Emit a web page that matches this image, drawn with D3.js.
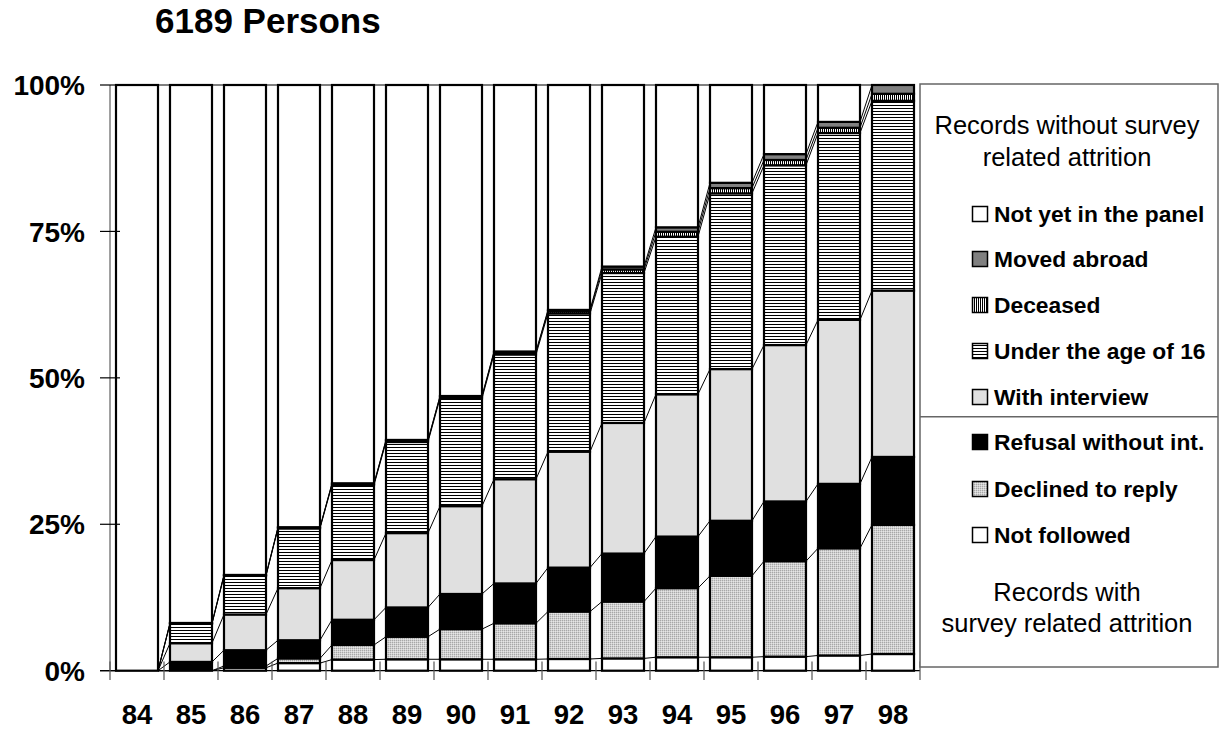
<!DOCTYPE html>
<html>
<head>
<meta charset="utf-8">
<script src="https://cdn.jsdelivr.net/npm/d3@7"></script>
<style>
  html, body { margin: 0; padding: 0; background: #fff; }
  svg { display: block; font-family: "Liberation Sans", Arial, sans-serif; }
</style>
</head>
<body>
<svg id="chart" width="1221" height="731"></svg>
<script>
// ---- data (percent of 6189 persons) ----
const categories = ["84","85","86","87","88","89","90","91","92","93","94","95","96","97","98"];
const notFollowed   = [0, 0,    0.5,  1.3,  1.9,  1.95, 1.95, 1.95, 2.0,  2.1,  2.3,  2.3,  2.4,  2.6,  2.85];
const declined      = [0, 0,    0.3,  0.8,  2.5,  3.85, 5.15, 6.15, 8.1,  9.7,  11.8, 13.9, 16.3, 18.3, 22.05];
const refusal       = [0, 1.5,  2.7,  3.1,  4.3,  5.0,  6.0,  6.8,  7.5,  8.2,  8.8,  9.4,  10.2, 11.0, 11.6];
const withInterview = [0, 3.2,  6.1,  8.9,  10.2, 12.7, 15.0, 17.8, 19.8, 22.3, 24.3, 25.9, 26.7, 28.0, 28.4];
const under16       = [0, 3.3,  6.6,  10.2, 12.8, 15.55,18.4, 21.3, 23.6, 25.6, 26.9, 30.0, 30.7, 31.9, 32.4];
const deceased      = [0, 0.1,  0.1,  0.15, 0.2,  0.25, 0.3,  0.35, 0.4,  0.6,  0.85, 0.9,  0.9,  0.9,  1.2];
const movedAbroad   = [0, 0.05, 0.05, 0.05, 0.1,  0.1,  0.1,  0.15, 0.2,  0.5,  0.75, 0.9,  1.0,  1.0,  1.5];
const notYet        = [100, 91.85, 83.65, 75.5, 68.0, 60.6, 53.1, 45.5, 38.4, 31.0, 24.3, 16.7, 11.8, 6.3, 0];
const yTicks = [0, 25, 50, 75, 100];
const yTickLabels = ["0%", "25%", "50%", "75%", "100%"];

const seriesKeys = ["notFollowed","declined","refusal","withInterview","under16","deceased","movedAbroad","notYet"];
const seriesData = {notFollowed, declined, refusal, withInterview, under16, deceased, movedAbroad, notYet};
const table = categories.map((c, i) => {
  const row = {cat: c};
  seriesKeys.forEach(k => row[k] = seriesData[k][i]);
  return row;
});

const svg = d3.select("#chart");
const defs = svg.append("defs");

// patterns
const pDecl = defs.append("pattern").attr("id","pDecl").attr("patternUnits","userSpaceOnUse")
  .attr("width",2).attr("height",2);
pDecl.append("rect").attr("width",2).attr("height",2).attr("fill","#d0d0d0");
pDecl.append("rect").attr("width",1).attr("height",1).attr("fill","#a8a8a8");
pDecl.append("rect").attr("x",1).attr("y",1).attr("width",1).attr("height",1).attr("fill","#e6e6e6");

const pH = defs.append("pattern").attr("id","pU16").attr("patternUnits","userSpaceOnUse")
  .attr("width",4).attr("height",3);
pH.append("rect").attr("width",4).attr("height",3).attr("fill","#fff");
pH.append("rect").attr("width",4).attr("height",1).attr("fill","#000");

const pV = defs.append("pattern").attr("id","pDec").attr("patternUnits","userSpaceOnUse")
  .attr("width",2).attr("height",4);
pV.append("rect").attr("width",2).attr("height",4).attr("fill","#fff");
pV.append("rect").attr("width",1).attr("height",4).attr("fill","#000");

const fills = {
  notFollowed: "#ffffff",
  declined: "url(#pDecl)",
  refusal: "#000000",
  withInterview: "#e0e0e0",
  under16: "url(#pU16)",
  deceased: "url(#pDec)",
  movedAbroad: "#808080",
  notYet: "#ffffff"
};

// scales
const x = d3.scaleBand().domain(categories).range([110, 920]).paddingInner(12/54).paddingOuter(6/54);
const y = d3.scaleLinear().domain([0, 100]).range([670.7, 85]);
const bw = x.bandwidth();

const stacked = d3.stack().keys(seriesKeys)(table);

// series lines
const lineG = svg.append("g");
stacked.forEach(s => {
  for (let i = 0; i < categories.length - 1; i++) {
    lineG.append("line")
      .attr("x1", x(categories[i]) + bw).attr("y1", y(s[i][1]))
      .attr("x2", x(categories[i+1])).attr("y2", y(s[i+1][1]))
      .attr("stroke", "#000").attr("stroke-width", 1);
  }
});

// bars
const barG = svg.append("g");
stacked.forEach(s => {
  barG.selectAll(null).data(s.filter(d => d[1] - d[0] > 0)).enter().append("rect")
    .attr("x", d => x(d.data.cat))
    .attr("width", bw)
    .attr("y", d => y(d[1]))
    .attr("height", d => y(d[0]) - y(d[1]))
    .attr("fill", fills[s.key])
    .attr("stroke", "#000")
    .attr("stroke-width", 2.2);
});

// y axis
const axG = svg.append("g");
axG.append("line").attr("x1",110).attr("x2",110).attr("y1",y(100)).attr("y2",y(0))
  .attr("stroke","#808080").attr("stroke-width",1.5);
yTicks.forEach((t, i) => {
  axG.append("line").attr("x1",100).attr("x2",120).attr("y1",y(t)).attr("y2",y(t))
    .attr("stroke","#000").attr("stroke-width",1.2);
  axG.append("text").attr("x",85).attr("y",y(t)).attr("dy","0.36em")
    .attr("text-anchor","end").attr("font-weight","bold").attr("font-size",28)
    .text(yTickLabels[i]);
});

// x axis
axG.append("line").attr("x1",100).attr("x2",920).attr("y1",y(0)).attr("y2",y(0))
  .attr("stroke","#000").attr("stroke-width",1.2);
const bounds = categories.map(c => x(c) - x.step()*x.paddingInner()/2).concat([920]);
bounds[0] = 110;
bounds.forEach(b => {
  axG.append("line").attr("x1",b).attr("x2",b).attr("y1",661.5).attr("y2",680)
    .attr("stroke","#555").attr("stroke-width",1.2);
});
categories.forEach(c => {
  axG.append("text").attr("x", x(c) + bw/2).attr("y", 714).attr("dy","0.36em")
    .attr("text-anchor","middle").attr("font-weight","bold").attr("font-size",27.5)
    .text(c);
});

// title
svg.append("text").attr("x",155).attr("y",33).attr("font-weight","bold").attr("font-size",35)
  .text("6189 Persons");

// legend
const lg = svg.append("g");
lg.append("rect").attr("x",920).attr("y",84).attr("width",298).attr("height",583)
  .attr("fill","#fff").attr("stroke","#666").attr("stroke-width",1.5);
lg.append("line").attr("x1",920).attr("x2",1218).attr("y1",416.7).attr("y2",416.7)
  .attr("stroke","#666").attr("stroke-width",1.5);

const legendTitlesTop = ["Records without survey", "related attrition"];
const legendTitlesBottom = ["Records with", "survey related attrition"];
[[legendTitlesTop, [125, 157]], [legendTitlesBottom, [592, 623]]].forEach(([lines, ys]) => {
  lines.forEach((t, i) => {
    lg.append("text").attr("x",1067).attr("y",ys[i]).attr("dy","0.36em")
      .attr("text-anchor","middle").attr("font-size",25.5).text(t);
  });
});

const legendItems = [
  ["notYet", "Not yet in the panel", 214],
  ["movedAbroad", "Moved abroad", 259],
  ["deceased", "Deceased", 305],
  ["under16", "Under the age of 16", 351],
  ["withInterview", "With interview", 397],
  ["refusal", "Refusal without int.", 442],
  ["declined", "Declined to reply", 489],
  ["notFollowed", "Not followed", 535]
];
legendItems.forEach(([k, label, cy]) => {
  lg.append("rect").attr("x",972.5).attr("y",cy-7.5).attr("width",15).attr("height",15)
    .attr("fill", fills[k]).attr("stroke","#000").attr("stroke-width",1.5);
  lg.append("text").attr("x",994).attr("y",cy).attr("dy","0.36em")
    .attr("font-weight","bold").attr("font-size",22.8).text(label);
});
</script>
</body>
</html>
